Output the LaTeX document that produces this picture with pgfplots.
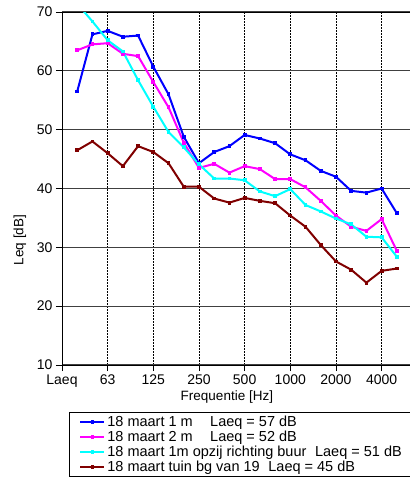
\documentclass[border=0pt]{standalone}
\usepackage{pgfplots}
\pgfplotsset{compat=1.18}
\usepackage{fontspec}
\setmainfont{Liberation Sans}
\definecolor{dkred}{RGB}{128,0,0}
\definecolor{sblue}{RGB}{0,0,255}
\definecolor{smag}{RGB}{255,0,255}
\definecolor{scyan}{RGB}{0,255,255}
\begin{document}
\begin{tikzpicture}
\useasboundingbox (0,0) rectangle (410bp,478bp);
\clip (0,0) rectangle (410bp,478bp);
\begin{axis}[
    at={(62bp,113bp)}, anchor=south west,
    x=15.22bp, y=5.883bp,
    xmin=0, xmax=23, ymin=10, ymax=70,
    xtick={0,3,...,21},
    xticklabels={Laeq,63,125,250,500,1000,2000,4000},
    ytick={10,20,...,70},
    xtick pos=bottom, ytick pos=left,
    tick align=outside,
    major tick length=6bp,
    tick style={black, line width=0.8bp},
    axis line style={black, line width=1bp},
    grid=major,
    major x grid style={black, line width=0.7bp, dash pattern=on 2bp off 1bp},
    major y grid style={black!75, line width=1.2bp},
    /pgf/number format/assume math mode=true,
    tick label style={font=\fontsize{14bp}{16bp}\selectfont},
    label style={font=\fontsize{13.5bp}{16bp}\selectfont},
    xlabel={Frequentie [Hz]},
    xlabel style={at={(axis description cs:0.471,-0.0907)}, anchor=center},
    ylabel={Leq [dB]},
    ylabel style={at={(axis description cs:-0.12,0.354)}, anchor=center},
    legend style={at={(axis description cs:0.02,-0.1335)}, anchor=north west,
      draw=black, line width=0.8bp, font=\fontsize{14.5bp}{16bp}\selectfont,
      row sep=-1bp, inner xsep=10bp, inner ysep=1.5bp},
    legend cell align=left,
    legend image code/.code={\draw[mark repeat=2,mark phase=2,#1] plot coordinates {(0bp,0bp) (12bp,0bp) (24bp,0bp)};},
    every axis plot/.append style={line width=2bp, mark=square*, mark size=0.9bp},
]
\addplot[sblue, mark options={fill=sblue}] coordinates {
(1,56.5) (2,66.2) (3,66.8) (4,65.8) (5,66.0) (6,60.7) (7,56.0) (8,48.8)
(9,44.3) (10,46.2) (11,47.2) (12,49.1) (13,48.5) (14,47.7) (15,45.8)
(16,44.8) (17,43.0) (18,42.0) (19,39.6) (20,39.3) (21,40.0) (22,35.8)};
\addlegendentry{18 maart 1 m\hspace{1.2em}Laeq = 57 dB}
\addplot[smag, mark options={fill=smag}] coordinates {
(1,63.5) (2,64.5) (3,64.7) (4,62.9) (5,62.5) (6,58.1) (7,53.8) (8,47.8)
(9,43.5) (10,44.2) (11,42.7) (12,43.8) (13,43.3) (14,41.6) (15,41.6)
(16,40.2) (17,37.9) (18,35.4) (19,33.5) (20,32.8) (21,34.8) (22,29.4)};
\addlegendentry{18 maart 2 m\hspace{1.2em}Laeq = 52 dB}
\addplot[scyan, mark options={fill=scyan}] coordinates {
(1,71.4) (2,68.4) (3,65.2) (4,63.3) (5,58.4) (6,53.9) (7,49.6) (8,47.0)
(9,44.1) (10,41.7) (11,41.7) (12,41.4) (13,39.5) (14,38.7) (15,39.9)
(16,37.2) (17,36.1) (18,34.9) (19,33.9) (20,31.8) (21,31.7) (22,28.4)};
\addlegendentry{18 maart 1m opzij richting buur\hspace{0.6em}Laeq = 51 dB}
\addplot[dkred, mark options={fill=dkred}] coordinates {
(1,46.5) (2,48.0) (3,46.0) (4,43.8) (5,47.2) (6,46.2) (7,44.3) (8,40.3)
(9,40.3) (10,38.3) (11,37.6) (12,38.4) (13,37.9) (14,37.5) (15,35.4)
(16,33.5) (17,30.4) (18,27.6) (19,26.2) (20,24.0) (21,26.0) (22,26.4)};
\addlegendentry{18 maart tuin bg van 19\hspace{0.6em}Laeq = 45 dB}
\end{axis}
\end{tikzpicture}
\end{document}
